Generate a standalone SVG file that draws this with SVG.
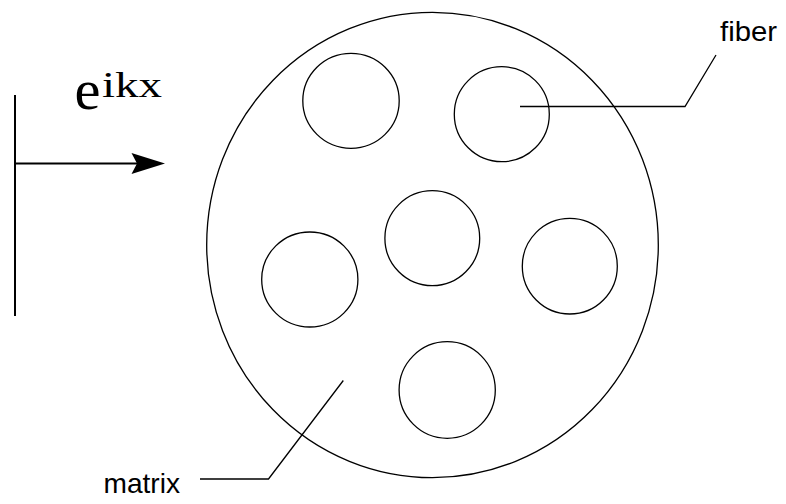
<svg xmlns="http://www.w3.org/2000/svg" width="786" height="504" viewBox="0 0 786 504">
<style>
.c{fill:none;stroke:#000;stroke-width:1.3}
.l{fill:none;stroke:#000;stroke-width:1.3}
.lbl{font-family:"Liberation Sans",Arial,sans-serif;font-size:28px;fill:#000}
.ser{font-family:"Liberation Serif","Times New Roman",serif;fill:#000}
</style>
<rect width="786" height="504" fill="#fff"/>
<g id="matrix-body"><ellipse class="c" cx="432.5" cy="245" rx="225.8" ry="232.7"/></g>
<g id="fiber1"><ellipse class="c" cx="351" cy="100.8" rx="48.2" ry="47.5"/></g>
<g id="fiber2"><ellipse class="c" cx="501.8" cy="114.2" rx="47.5" ry="47.5"/></g>
<g id="fiber3"><ellipse class="c" cx="432.3" cy="238.2" rx="47.4" ry="47.5"/></g>
<g id="fiber4"><ellipse class="c" cx="309.8" cy="279.5" rx="48.1" ry="47.5"/></g>
<g id="fiber5"><ellipse class="c" cx="569.8" cy="266.2" rx="47.5" ry="47.8"/></g>
<g id="fiber6"><ellipse class="c" cx="447.2" cy="390" rx="48.1" ry="48.3"/></g>
<g id="wave">
<line x1="15" y1="95" x2="15" y2="316" stroke="#000" stroke-width="2"/>
<line x1="15" y1="163.5" x2="140" y2="163.5" stroke="#000" stroke-width="2"/>
<polygon points="165,163.5 131.5,153 137,163.5 131.5,174" fill="#000"/>
<text class="ser" x="74.5" y="109.3" font-size="56" textLength="26" lengthAdjust="spacingAndGlyphs">e</text>
<text class="ser" x="102" y="96.5" font-size="35" textLength="60" lengthAdjust="spacingAndGlyphs">ikx</text>
</g>
<g id="connectors">
<polyline class="l" points="520,106.5 685,106.5 716,55"/>
<polyline class="l" points="200,479 268.5,479 343.3,380.5"/>
</g>
<g id="labels">
<text class="lbl" x="720" y="40.7" textLength="57" lengthAdjust="spacingAndGlyphs">fiber</text>
<text class="lbl" x="103.5" y="493.3" textLength="76.5" lengthAdjust="spacingAndGlyphs">matrix</text>
</g>
</svg>
